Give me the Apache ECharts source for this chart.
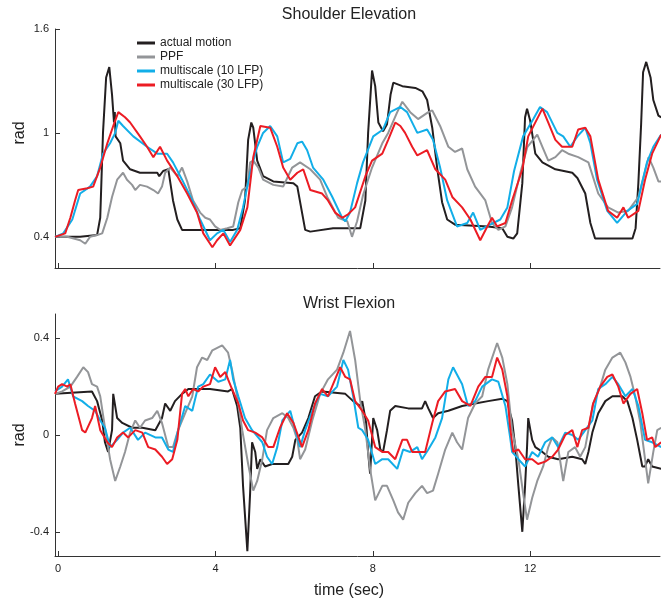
<html>
  <head>
    <meta charset="UTF-8" />
    <script src="https://cdn.jsdelivr.net/npm/echarts@6/dist/echarts.min.js"></script>
    <title>shoulder / wrist decoding</title>
    <style>
      html, body { margin: 0; padding: 0; background: #fff; }
      #main { width: 665px; height: 604px; }
    </style>
  </head>
  <body>
    <div id="main"></div>
    <script>
      // series names (legend)
      var names = ['actual motion', 'PPF', 'multiscale (10 LFP)', 'multiscale (30 LFP)'];
      var timeTicks = [0, 4, 8, 12];
      var shoulderTicks = [0.4, 1, 1.6];
      var wristTicks = [-0.4, 0, 0.4];

      // Shoulder Elevation, [time (sec), rad]
      var shoulderActual = [[-0.08,0.40],[0.56,0.40],[0.99,0.41],[1.07,0.51],[1.14,1.00],[1.22,1.32],[1.30,1.38],[1.37,1.22],[1.42,1.06],[1.44,1.12],[1.46,0.98],[1.58,0.94],[1.65,0.84],[1.83,0.79],[2.08,0.77],[2.52,0.77],[2.57,0.75],[2.67,0.78],[2.80,0.79],[2.92,0.61],[3.03,0.50],[3.15,0.44],[4.45,0.44],[4.63,0.45],[4.75,0.61],[4.83,0.96],[4.91,1.06],[4.96,1.03],[5.06,0.84],[5.21,0.75],[5.47,0.72],[5.98,0.71],[6.08,0.69],[6.20,0.54],[6.28,0.44],[6.41,0.43],[6.99,0.45],[7.68,0.45],[7.81,0.61],[7.88,1.00],[7.98,1.36],[8.06,1.27],[8.14,1.06],[8.26,1.01],[8.36,1.05],[8.45,1.22],[8.52,1.29],[8.75,1.27],[9.08,1.26],[9.26,1.24],[9.38,1.19],[9.51,1.03],[9.64,0.79],[9.76,0.60],[9.89,0.50],[10.09,0.47],[10.93,0.46],[11.29,0.45],[11.42,0.40],[11.57,0.39],[11.67,0.42],[11.80,0.71],[11.87,1.09],[11.92,1.14],[12.0,1.07],[12.13,0.88],[12.31,0.83],[12.64,0.79],[13.07,0.77],[13.20,0.74],[13.40,0.65],[13.53,0.48],[13.65,0.39],[14.60,0.39],[14.68,0.45],[14.75,0.71],[14.82,1.05],[14.87,1.35],[14.95,1.41],[15.06,1.32],[15.13,1.19],[15.26,1.10],[15.33,1.09]];
      var shoulderPPF = [[-0.08,0.40],[0.23,0.40],[0.56,0.38],[0.69,0.36],[0.81,0.40],[0.99,0.41],[1.12,0.42],[1.25,0.51],[1.37,0.63],[1.50,0.73],[1.65,0.77],[1.75,0.73],[1.88,0.70],[1.96,0.67],[2.08,0.70],[2.26,0.69],[2.42,0.67],[2.54,0.65],[2.64,0.69],[2.72,0.77],[2.85,0.80],[3.03,0.75],[3.15,0.80],[3.28,0.72],[3.43,0.61],[3.61,0.54],[3.74,0.51],[3.86,0.50],[3.99,0.46],[4.12,0.44],[4.30,0.45],[4.45,0.46],[4.58,0.60],[4.68,0.67],[4.81,0.69],[4.88,0.83],[4.96,0.84],[5.09,0.80],[5.21,0.73],[5.47,0.70],[5.72,0.69],[5.95,0.80],[6.15,0.83],[6.41,0.79],[6.66,0.73],[6.84,0.63],[7.12,0.51],[7.35,0.49],[7.47,0.40],[7.60,0.49],[7.75,0.64],[7.98,0.80],[8.24,0.94],[8.39,1.00],[8.62,1.12],[8.75,1.18],[8.95,1.12],[9.15,1.08],[9.41,1.12],[9.51,1.13],[9.71,1.04],[9.92,0.92],[10.09,0.89],[10.27,0.91],[10.40,0.79],[10.60,0.69],[10.86,0.61],[11.03,0.48],[11.19,0.44],[11.37,0.46],[11.54,0.57],[11.75,0.77],[11.93,0.92],[12.18,0.99],[12.31,0.92],[12.46,0.84],[12.64,0.86],[12.81,0.90],[12.97,0.88],[13.22,0.86],[13.48,0.83],[13.73,0.65],[13.98,0.57],[14.24,0.54],[14.49,0.55],[14.75,0.63],[15.01,0.86],[15.13,0.80],[15.26,0.72],[15.33,0.72]];
      var shoulderMs10 = [[-0.08,0.40],[0.13,0.42],[0.36,0.50],[0.56,0.65],[0.81,0.69],[0.99,0.75],[1.14,0.88],[1.32,0.94],[1.45,1.00],[1.53,1.07],[1.65,1.04],[1.91,0.98],[2.26,0.92],[2.52,0.88],[2.77,0.88],[2.92,0.83],[3.15,0.73],[3.41,0.61],[3.61,0.50],[3.86,0.38],[4.04,0.42],[4.20,0.44],[4.37,0.37],[4.55,0.44],[4.70,0.57],[4.88,0.77],[5.06,0.92],[5.21,1.00],[5.39,1.04],[5.57,0.98],[5.72,0.83],[5.90,0.85],[6.08,0.94],[6.20,0.95],[6.33,0.90],[6.48,0.80],[6.74,0.73],[6.97,0.63],[7.22,0.51],[7.30,0.49],[7.42,0.54],[7.60,0.71],[7.75,0.83],[8.01,0.98],[8.26,1.02],[8.44,1.12],[8.70,1.15],[8.87,1.12],[9.13,1.00],[9.38,1.02],[9.53,0.96],[9.71,0.80],[9.89,0.61],[10.14,0.46],[10.40,0.48],[10.55,0.54],[10.73,0.44],[10.98,0.47],[11.24,0.50],[11.42,0.57],[11.59,0.78],[11.82,0.98],[12.08,1.08],[12.25,1.15],[12.43,1.12],[12.69,1.00],[12.84,0.98],[13.02,0.92],[13.20,0.98],[13.40,1.03],[13.53,0.94],[13.70,0.73],[13.96,0.55],[14.21,0.48],[14.47,0.55],[14.72,0.59],[14.97,0.83],[15.13,0.92],[15.33,0.99]];
      var shoulderMs30 = [[-0.08,0.40],[0.18,0.42],[0.31,0.51],[0.43,0.61],[0.51,0.67],[0.74,0.68],[0.89,0.69],[1.07,0.80],[1.25,0.94],[1.40,1.04],[1.53,1.12],[1.70,1.09],[1.83,1.06],[2.08,0.98],[2.26,0.92],[2.42,0.86],[2.59,0.92],[2.77,0.84],[3.03,0.75],[3.28,0.65],[3.53,0.54],[3.69,0.42],[3.92,0.34],[4.04,0.38],[4.20,0.42],[4.37,0.35],[4.63,0.44],[4.81,0.57],[4.96,0.86],[5.14,1.04],[5.39,1.03],[5.57,0.92],[5.72,0.80],[5.90,0.73],[6.08,0.77],[6.23,0.79],[6.41,0.67],[6.71,0.65],[6.86,0.61],[7.04,0.54],[7.22,0.51],[7.37,0.53],[7.55,0.57],[7.81,0.75],[7.98,0.84],[8.24,0.88],[8.39,0.96],[8.57,1.06],[8.70,1.04],[8.82,1.00],[9.00,0.92],[9.13,0.87],[9.38,0.90],[9.59,0.79],[9.84,0.73],[10.02,0.63],[10.27,0.57],[10.48,0.50],[10.73,0.38],[10.91,0.46],[11.03,0.51],[11.16,0.46],[11.37,0.48],[11.54,0.61],[11.80,0.79],[11.95,0.98],[12.31,1.14],[12.46,1.06],[12.64,0.96],[12.81,0.92],[13.07,0.92],[13.22,1.02],[13.40,1.03],[13.53,0.98],[13.73,0.73],[13.98,0.55],[14.21,0.51],[14.37,0.57],[14.49,0.51],[14.75,0.55],[14.92,0.73],[15.10,0.88],[15.33,0.99]];

      // Wrist Flexion, [time (sec), rad]
      var wristActual = [[-0.08,0.17],[0.86,0.18],[0.99,0.14],[1.12,0.06],[1.19,-0.03],[1.27,-0.07],[1.37,0.02],[1.40,0.17],[1.50,0.07],[1.63,0.05],[1.88,0.03],[2.14,0.03],[2.47,0.02],[2.64,0.07],[2.72,0.13],[2.85,0.10],[2.97,0.14],[3.15,0.17],[3.31,0.19],[3.86,0.19],[4.32,0.18],[4.42,0.19],[4.55,0.12],[4.63,0.03],[4.70,-0.21],[4.81,-0.48],[4.88,-0.24],[4.93,-0.03],[5.01,-0.07],[5.06,-0.14],[5.14,-0.10],[5.26,-0.13],[5.44,-0.12],[5.85,-0.12],[5.95,-0.09],[6.03,-0.02],[6.20,0.01],[6.36,0.07],[6.53,0.16],[6.71,0.18],[7.30,0.17],[7.50,0.14],[7.68,0.12],[7.73,0.14],[7.83,0.05],[7.88,-0.07],[7.93,-0.16],[8.01,0.07],[8.11,0.02],[8.19,-0.06],[8.26,-0.07],[8.36,0.02],[8.44,0.10],[8.57,0.12],[8.90,0.11],[9.25,0.11],[9.33,0.14],[9.41,0.11],[9.53,0.07],[9.66,0.09],[9.92,0.10],[10.27,0.12],[10.60,0.13],[10.93,0.14],[11.29,0.15],[11.42,0.14],[11.49,0.09],[11.54,0.06],[11.62,-0.05],[11.70,-0.21],[11.80,-0.40],[11.87,-0.21],[11.92,-0.05],[11.95,0.07],[12.05,-0.02],[12.13,-0.05],[12.31,-0.07],[12.46,-0.09],[12.71,-0.10],[13.07,-0.09],[13.32,-0.10],[13.40,-0.12],[13.48,-0.07],[13.58,0.01],[13.73,0.09],[13.91,0.14],[14.09,0.16],[14.34,0.16],[14.47,0.14],[14.60,0.07],[14.72,-0.02],[14.85,-0.13],[14.92,-0.13],[15.00,-0.10],[15.10,-0.13],[15.33,-0.14]];
      var wristPPF = [[-0.08,0.17],[0.10,0.18],[0.31,0.20],[0.48,0.24],[0.64,0.28],[0.76,0.26],[0.86,0.21],[0.99,0.20],[1.07,0.16],[1.19,0.03],[1.32,-0.10],[1.45,-0.19],[1.58,-0.13],[1.70,-0.07],[1.83,0.01],[1.96,0.06],[2.08,0.03],[2.21,0.06],[2.39,0.07],[2.52,0.10],[2.64,0.05],[2.80,-0.05],[2.92,-0.05],[3.05,0.02],[3.23,0.09],[3.41,0.16],[3.53,0.28],[3.66,0.32],[3.79,0.31],[3.92,0.35],[4.17,0.37],[4.32,0.34],[4.42,0.27],[4.55,0.16],[4.68,0.02],[4.83,-0.12],[4.96,-0.23],[5.06,-0.19],[5.19,-0.10],[5.31,0.02],[5.47,0.07],[5.70,0.09],[5.85,0.07],[5.98,0.03],[6.08,-0.02],[6.15,-0.10],[6.28,-0.06],[6.46,0.06],[6.66,0.17],[6.86,0.23],[7.09,0.27],[7.25,0.34],[7.42,0.43],[7.55,0.31],[7.68,0.14],[7.81,0.02],[7.93,-0.14],[8.06,-0.27],[8.24,-0.21],[8.36,-0.21],[8.52,-0.27],[8.64,-0.32],[8.77,-0.35],[8.90,-0.28],[9.08,-0.24],[9.25,-0.21],[9.38,-0.24],[9.53,-0.23],[9.66,-0.16],[9.84,-0.06],[10.02,0.01],[10.14,-0.03],[10.27,-0.06],[10.42,0.07],[10.60,0.13],[10.78,0.16],[10.93,0.27],[11.16,0.38],[11.29,0.32],[11.42,0.21],[11.54,0.02],[11.70,-0.10],[11.82,-0.24],[11.92,-0.35],[12.05,-0.26],[12.18,-0.19],[12.33,-0.13],[12.46,-0.05],[12.56,-0.01],[12.69,-0.03],[12.84,-0.19],[12.97,-0.07],[13.14,-0.05],[13.27,-0.09],[13.40,-0.05],[13.48,0.02],[13.60,0.13],[13.78,0.20],[13.91,0.27],[14.09,0.32],[14.29,0.34],[14.42,0.30],[14.55,0.24],[14.67,0.16],[14.80,0.05],[14.92,-0.10],[15.00,-0.20],[15.13,-0.07],[15.23,0.02],[15.33,0.03]];
      var wristMs10 = [[-0.08,0.18],[0.10,0.20],[0.25,0.23],[0.38,0.16],[0.61,0.14],[0.76,0.12],[0.94,0.10],[1.07,0.06],[1.19,0.03],[1.32,-0.05],[1.50,-0.02],[1.65,0.01],[1.83,0.03],[2.03,-0.02],[2.21,0.01],[2.47,-0.01],[2.64,-0.01],[2.80,-0.06],[2.92,-0.07],[3.05,0.02],[3.23,0.12],[3.41,0.10],[3.56,0.20],[3.69,0.21],[3.86,0.25],[4.07,0.22],[4.25,0.23],[4.37,0.31],[4.45,0.23],[4.58,0.16],[4.75,0.07],[4.93,0.02],[5.19,-0.03],[5.31,-0.09],[5.44,-0.12],[5.57,-0.05],[5.70,0.06],[5.90,0.10],[6.03,0.02],[6.15,-0.05],[6.28,0.02],[6.46,0.10],[6.66,0.17],[6.86,0.16],[7.09,0.20],[7.25,0.31],[7.37,0.27],[7.50,0.16],[7.63,0.03],[7.73,0.02],[7.88,-0.02],[8.06,-0.12],[8.24,-0.10],[8.39,-0.10],[8.62,-0.14],[8.77,-0.06],[8.95,-0.07],[9.13,-0.05],[9.25,-0.10],[9.41,-0.06],[9.59,-0.01],[9.76,0.07],[9.92,0.23],[10.04,0.28],[10.27,0.21],[10.42,0.12],[10.60,0.14],[10.78,0.20],[11.03,0.23],[11.19,0.22],[11.37,0.12],[11.49,-0.01],[11.54,-0.07],[11.70,-0.10],[11.87,-0.13],[12.05,-0.07],[12.20,-0.09],[12.38,-0.03],[12.56,-0.01],[12.71,-0.05],[12.89,0.01],[13.07,0.00],[13.22,-0.02],[13.40,0.02],[13.58,0.06],[13.73,0.19],[13.91,0.21],[14.09,0.24],[14.24,0.21],[14.42,0.16],[14.60,0.19],[14.75,0.12],[14.92,-0.02],[15.10,-0.03],[15.33,-0.05]];
      var wristMs30 = [[-0.08,0.17],[0.00,0.20],[0.10,0.21],[0.23,0.20],[0.31,0.21],[0.43,0.13],[0.61,0.02],[0.69,0.01],[0.86,0.07],[0.94,0.12],[1.07,0.02],[1.25,-0.03],[1.37,-0.05],[1.50,-0.01],[1.65,0.01],[1.78,-0.01],[1.96,0.02],[2.14,0.01],[2.29,-0.05],[2.47,-0.06],[2.64,-0.09],[2.77,-0.12],[2.90,-0.10],[3.03,-0.02],[3.15,0.17],[3.23,0.19],[3.31,0.16],[3.43,0.19],[3.56,0.18],[3.69,0.20],[3.86,0.21],[3.99,0.28],[4.12,0.24],[4.25,0.26],[4.32,0.23],[4.42,0.19],[4.58,0.13],[4.70,0.06],[4.83,0.02],[5.01,0.01],[5.19,-0.01],[5.34,-0.05],[5.47,-0.05],[5.64,0.03],[5.82,0.09],[5.98,0.05],[6.20,-0.05],[6.36,0.02],[6.53,0.13],[6.71,0.19],[6.86,0.16],[7.04,0.23],[7.17,0.28],[7.30,0.24],[7.42,0.23],[7.55,0.14],[7.73,0.10],[7.88,0.06],[8.06,-0.05],[8.24,-0.07],[8.39,-0.07],[8.57,-0.10],[8.75,-0.02],[8.87,-0.02],[9.00,-0.07],[9.15,-0.07],[9.33,-0.07],[9.51,0.05],[9.66,0.14],[9.84,0.18],[10.09,0.19],[10.27,0.14],[10.48,0.12],[10.68,0.20],[10.86,0.24],[11.03,0.24],[11.16,0.32],[11.29,0.27],[11.42,0.16],[11.49,0.03],[11.57,-0.07],[11.70,-0.06],[11.87,-0.10],[12.05,-0.10],[12.20,-0.12],[12.38,-0.11],[12.56,-0.09],[12.71,-0.06],[12.89,0.00],[13.07,0.02],[13.20,-0.05],[13.32,0.02],[13.48,0.03],[13.60,0.13],[13.78,0.20],[13.96,0.24],[14.09,0.25],[14.24,0.20],[14.37,0.13],[14.55,0.17],[14.72,0.19],[14.85,0.09],[14.97,-0.02],[15.10,-0.01],[15.18,-0.05],[15.33,-0.03]];

      var colors = ['#231f20', '#939598', '#12aee8', '#ec1c24'];
      var font = 'Liberation Sans, Arial, sans-serif';

      var chartDom = document.getElementById('main');
      var myChart = echarts.init(chartDom);

      function xAxisFor(grid, showLabels) {
        return {
          gridIndex: grid,
          type: 'value',
          min: -0.08,
          max: 15.3,
          axisLine: { show: true, onZero: false, lineStyle: { color: '#333', width: 1 } },
          axisTick: { show: true, inside: true, length: 5, customValues: timeTicks, lineStyle: { color: '#333' } },
          axisLabel: { show: showLabels, customValues: timeTicks, fontSize: 11, color: '#222', margin: 7, fontFamily: font },
          splitLine: { show: false }
        };
      }
      function yAxisFor(grid, min, max, ticks) {
        return {
          gridIndex: grid,
          type: 'value',
          min: min,
          max: max,
          axisLine: { show: true, onZero: false, lineStyle: { color: '#333', width: 1 } },
          axisTick: { show: true, inside: true, length: 5, customValues: ticks, lineStyle: { color: '#333' } },
          axisLabel: { customValues: ticks, fontSize: 11, color: '#222', margin: 6, fontFamily: font },
          splitLine: { show: false }
        };
      }
      function lineSeries(name, data, idx, grid) {
        return {
          name: name,
          type: 'line',
          xAxisIndex: grid,
          yAxisIndex: grid,
          data: data,
          showSymbol: false,
          color: colors[idx],
          lineStyle: { width: 2, color: colors[idx] },
          z: 2 + idx
        };
      }

      var option = {
        animation: false,
        backgroundColor: '#fff',
        grid: [
          { left: 55, right: 5, top: 29, height: 239 },
          { left: 55, right: 5, top: 314, height: 242 }
        ],
        xAxis: [xAxisFor(0, false), xAxisFor(1, true)],
        yAxis: [yAxisFor(0, 0.22, 1.6, shoulderTicks), yAxisFor(1, -0.5, 0.5, wristTicks)],
        legend: {
          orient: 'vertical',
          left: 137,
          top: 37,
          padding: 0,
          icon: 'rect',
          itemWidth: 18,
          itemHeight: 3,
          itemGap: 2,
          textStyle: { fontSize: 12, color: '#222', fontFamily: font },
          data: names
        },
        graphic: [
          { type: 'text', x: 349, y: 15, style: { text: 'Shoulder Elevation', font: '16px ' + font, fill: '#222', textAlign: 'center', textVerticalAlign: 'middle' } },
          { type: 'text', x: 349, y: 304, style: { text: 'Wrist Flexion', font: '16px ' + font, fill: '#222', textAlign: 'center', textVerticalAlign: 'middle' } },
          { type: 'text', x: 349, y: 591, style: { text: 'time (sec)', font: '16px ' + font, fill: '#222', textAlign: 'center', textVerticalAlign: 'middle' } },
          { type: 'text', x: 20, y: 133, rotation: Math.PI / 2, style: { text: 'rad', font: '16px ' + font, fill: '#222', textAlign: 'center', textVerticalAlign: 'middle' } },
          { type: 'text', x: 20, y: 435, rotation: Math.PI / 2, style: { text: 'rad', font: '16px ' + font, fill: '#222', textAlign: 'center', textVerticalAlign: 'middle' } }
        ],
        series: [
          lineSeries(names[0], shoulderActual, 0, 0),
          lineSeries(names[1], shoulderPPF, 1, 0),
          lineSeries(names[2], shoulderMs10, 2, 0),
          lineSeries(names[3], shoulderMs30, 3, 0),
          lineSeries(names[0], wristActual, 0, 1),
          lineSeries(names[1], wristPPF, 1, 1),
          lineSeries(names[2], wristMs10, 2, 1),
          lineSeries(names[3], wristMs30, 3, 1)
        ]
      };
      myChart.setOption(option, true);
    </script>
  </body>
</html>
